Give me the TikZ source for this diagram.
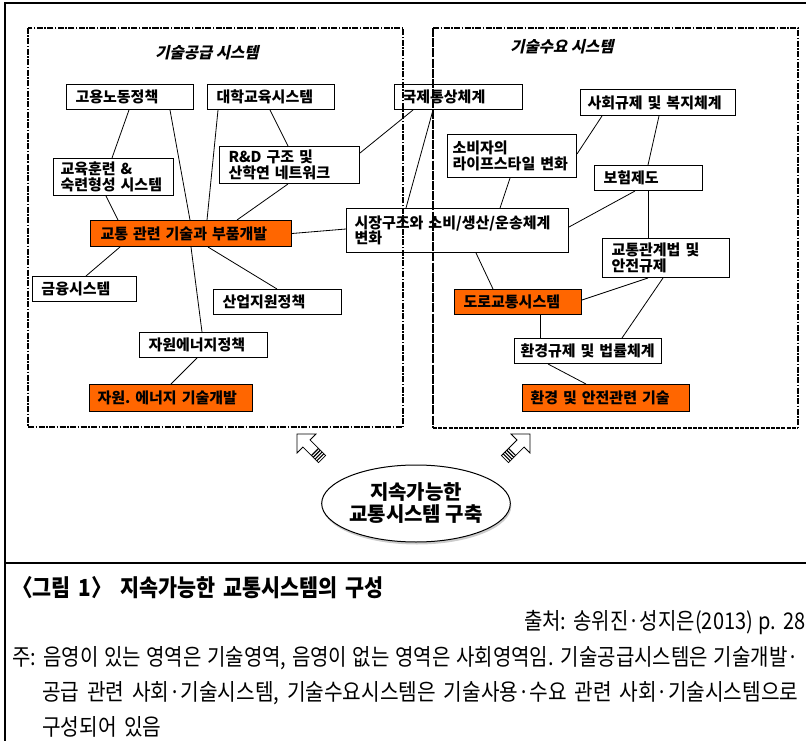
\documentclass[tikz,border=0pt]{standalone}
\usepackage{fontspec}
\setmainfont{Noto Sans CJK KR}
\newfontfamily\kr{Noto Sans CJK KR}
\newfontfamily\krsl[FakeSlant=0.22]{Noto Sans CJK KR}
\newfontfamily\capfont[FakeStretch=0.88, WordSpace=1.7]{Noto Sans CJK KR}
\newfontfamily\capfontn[FakeStretch=0.87, WordSpace=1.25]{Noto Sans CJK KR}
\usetikzlibrary{shapes.geometric,calc,shadows}
\definecolor{techor}{HTML}{FF6600}
\begin{document}
\begin{tikzpicture}[x=1pt,y=-1pt,
  box/.style={draw=black, line width=1pt, fill=white, anchor=north west, inner xsep=9pt, inner ysep=0pt, align=left, font=\kr\bfseries\fontsize{15}{15.5}\selectfont},
  tbox/.style={box, fill=techor},
  link/.style={draw=black, line width=0.8pt},
  sysframe/.style={line width=1.2pt, dash pattern=on 6pt off 1.5pt on 1.5pt off 1.5pt},
  systitle/.style={font=\krsl\bfseries\fontsize{15.5}{17}\selectfont},
  capline/.style={anchor=west, inner sep=0pt, font=\capfont\fontsize{23}{26}\selectfont},
  blockarrow/.style={line width=0.8pt, fill=white}]
\useasboundingbox (0,0) rectangle (806,741);
% outer frame
\draw[line width=1.2pt] (806,3) -- (5,3) -- (5,741);
\draw[line width=1.2pt] (5,563) -- (806,563);
% titles
\node[systitle] (supt) at (207,53) {기술공급 시스템};
\node[systitle] (dmdt) at (562,47) {기술수요 시스템};
% left boxes
\node[box, minimum width=127pt, minimum height=25pt, text width=109pt] (ggn) at (66,84) {고용노동정책};
\node[box, minimum width=127pt, minimum height=25pt, text width=109pt] (dhg) at (207,84) {대학교육시스템};
\node[box, minimum width=128pt, minimum height=25pt, text width=112pt, inner xsep=8pt] (gjt) at (394,84) {국제통상체계};
\node[box, minimum width=140pt, minimum height=37pt, text width=122pt] (rnd) at (219,146) {R\&D 구조 및\\산학연~네트워크};
\node[box, minimum width=120pt, minimum height=37pt, text width=106pt, inner xsep=7pt] (edu) at (53,158) {교육훈련 \&\\숙련형성~시스템};
\node[box, minimum width=222pt, minimum height=44pt, text width=206pt, inner xsep=8pt] (mkt) at (346,208) {시장구조와~소비/생산/운송체계\\변화};
\node[tbox, minimum width=201pt, minimum height=26pt, text width=181pt, inner xsep=10pt] (tech) at (90,220) {교통~관련~기술과~부품개발};
\node[box, minimum width=104pt, minimum height=25pt, text width=86pt] (fin) at (32,276) {금융시스템};
\node[box, minimum width=128pt, minimum height=25pt, text width=110pt] (ind) at (213,289) {산업지원정책};
\node[box, minimum width=128pt, minimum height=25pt, text width=110pt] (res) at (139,332) {자원에너지정책};
\node[tbox, minimum width=163pt, minimum height=27pt, text width=147pt, inner xsep=8pt] (rtech) at (89,384) {자원.~에너지~기술개발};
% right boxes
\node[box, minimum width=155pt, minimum height=26pt, text width=141pt, inner xsep=7pt] (soc) at (580,89) {사회규제~및~복지체계};
\node[box, minimum width=129pt, minimum height=43pt, text width=119pt, inner xsep=5pt] (life) at (447,134) {소비자의\\라이프스타일~변화};
\node[box, minimum width=108pt, minimum height=25pt, text width=90pt] (ins) at (594,165) {보험제도};
\node[box, minimum width=127pt, minimum height=39pt, text width=109pt] (law) at (602,238) {교통관계법~및\\안전규제};
\node[tbox, minimum width=127pt, minimum height=25pt, text width=109pt] (road) at (454,289) {도로교통시스템};
\node[box, minimum width=147pt, minimum height=25pt, text width=135pt, inner xsep=6pt] (env) at (514,338) {환경규제~및~법률체계};
\node[tbox, minimum width=167pt, minimum height=27pt, text width=151pt, inner xsep=8pt] (etech) at (522,384) {환경~및~안전관련~기술};
% system frames
\draw[sysframe] (28,28) rectangle (403,427);
\draw[sysframe] (433,28) -- (798,28) -- (798,428);
\draw[line width=2pt, dash pattern=on 9pt off 1.2pt] (433,28) -- (433,428);
\draw[line width=2.2pt, dash pattern=on 4pt off 1.2pt] (433,428) -- (798,428);
% connectors
\draw[link] ([xshift=63pt]ggn.south west) -- ([xshift=59pt]edu.north west);
\draw[link] ([xshift=104pt]ggn.south west) -- ([xshift=100pt]tech.north west);
\draw[link] ([xshift=11pt]dhg.south west) -- ([xshift=117pt]tech.north west);
\draw[link] ([xshift=63pt]dhg.south west) -- ([xshift=69pt]rnd.north west);
\draw[link] ([xshift=69pt]rnd.south west) -- ([xshift=147pt]tech.north west);
\draw[link] ([xshift=53pt]edu.south west) -- ([xshift=28pt]tech.north west);
\draw[link] ([yshift=-7pt]rnd.north east) -- ([xshift=19pt]gjt.south west);
\draw[link] ([xshift=39pt]gjt.south west) -- ([xshift=60pt]mkt.north west);
\draw[link] (tech.east) -- ([yshift=-21pt]mkt.north west);
\draw[link] ([xshift=30pt]tech.south west) -- ([xshift=54pt]fin.north west);
\draw[link] ([xshift=101pt]tech.south west) -- ([xshift=63pt]res.north west);
\draw[link] ([xshift=118pt]tech.south west) -- ([xshift=64pt]ind.north west);
\draw[link] ([xshift=58pt]res.south west) -- ([xshift=82pt]rtech.north west);
\draw[link] ([xshift=22pt]soc.south west) -- ([yshift=-20pt]life.north east);
\draw[link] ([xshift=79pt]soc.south west) -- ([xshift=54pt]ins.north west);
\draw[link] ([xshift=63pt]life.south west) -- ([xshift=154pt]mkt.north west);
\draw[link] ([xshift=41pt]ins.south west) -- ([yshift=-19pt]mkt.north east);
\draw[link] ([xshift=54pt]ins.south west) -- ([xshift=46pt]law.north west);
\draw[link] ([xshift=130pt]mkt.south west) -- ([xshift=39pt]road.north west);
\draw[link] ([xshift=46pt]law.south west) -- ([yshift=-11pt]road.north east);
\draw[link] ([xshift=61pt]law.south west) -- ([xshift=108pt]env.north west);
\draw[link] ([xshift=86pt]road.south west) -- ([xshift=26pt]env.north west);
\draw[link] ([xshift=34pt]env.south west) -- ([xshift=64pt]etech.north west);
% block arrows
\begin{scope}[shift={(306.5,443.5)}, x={(0.7071pt,-0.7071pt)}, y={(0.7071pt,0.7071pt)}]
  \draw[blockarrow] (-13.4,0) -- (0,13.4) -- (0,5) -- (22,5) -- (22,-5) -- (0,-5) -- (0,-13.4) -- cycle;
  \foreach \u in {12,14.5,17,19.5} \draw[line width=1.1pt] (\u,5) -- (\u,-5);
\end{scope}
\begin{scope}[shift={(520.5,443.5)}, x={(-0.7071pt,-0.7071pt)}, y={(-0.7071pt,0.7071pt)}]
  \draw[blockarrow] (-13.4,0) -- (0,13.4) -- (0,5) -- (22,5) -- (22,-5) -- (0,-5) -- (0,-13.4) -- cycle;
  \foreach \u in {12,14.5,17,19.5} \draw[line width=1.1pt] (\u,5) -- (\u,-5);
\end{scope}
% goal ellipse
\node[ellipse, draw=black, line width=1pt, fill=white, minimum width=183pt, minimum height=77pt, inner sep=0pt, align=center,
  drop shadow={shadow xshift=1pt, shadow yshift=-2.5pt, fill=gray!80},
  font=\kr\bfseries\fontsize{20}{22}\selectfont] (goal) at (416,503.5) {지속가능한\\교통시스템 구축};
% caption
\node[capline, font=\capfont\bfseries\fontsize{23.5}{26}\selectfont] (cap) at (12,588) {〈그림 1〉 지속가능한 교통시스템의 구성};
\node[capline, anchor=east, font=\capfontn\fontsize{23}{26}\selectfont] (src) at (806,623) {출처: 송위진·성지은(2013) p. 28};
\node[capline, font=\capfontn\fontsize{23}{26}\selectfont] (note1) at (12,658) {주: 음영이 있는 영역은 기술영역, 음영이 없는 영역은 사회영역임. 기술공급시스템은 기술개발·};
\node[capline] (note2) at (42,693) {공급 관련 사회·기술시스템, 기술수요시스템은 기술사용·수요 관련 사회·기술시스템으로};
\node[capline] (note3) at (42,727) {구성되어 있음};
\end{tikzpicture}
\end{document}
